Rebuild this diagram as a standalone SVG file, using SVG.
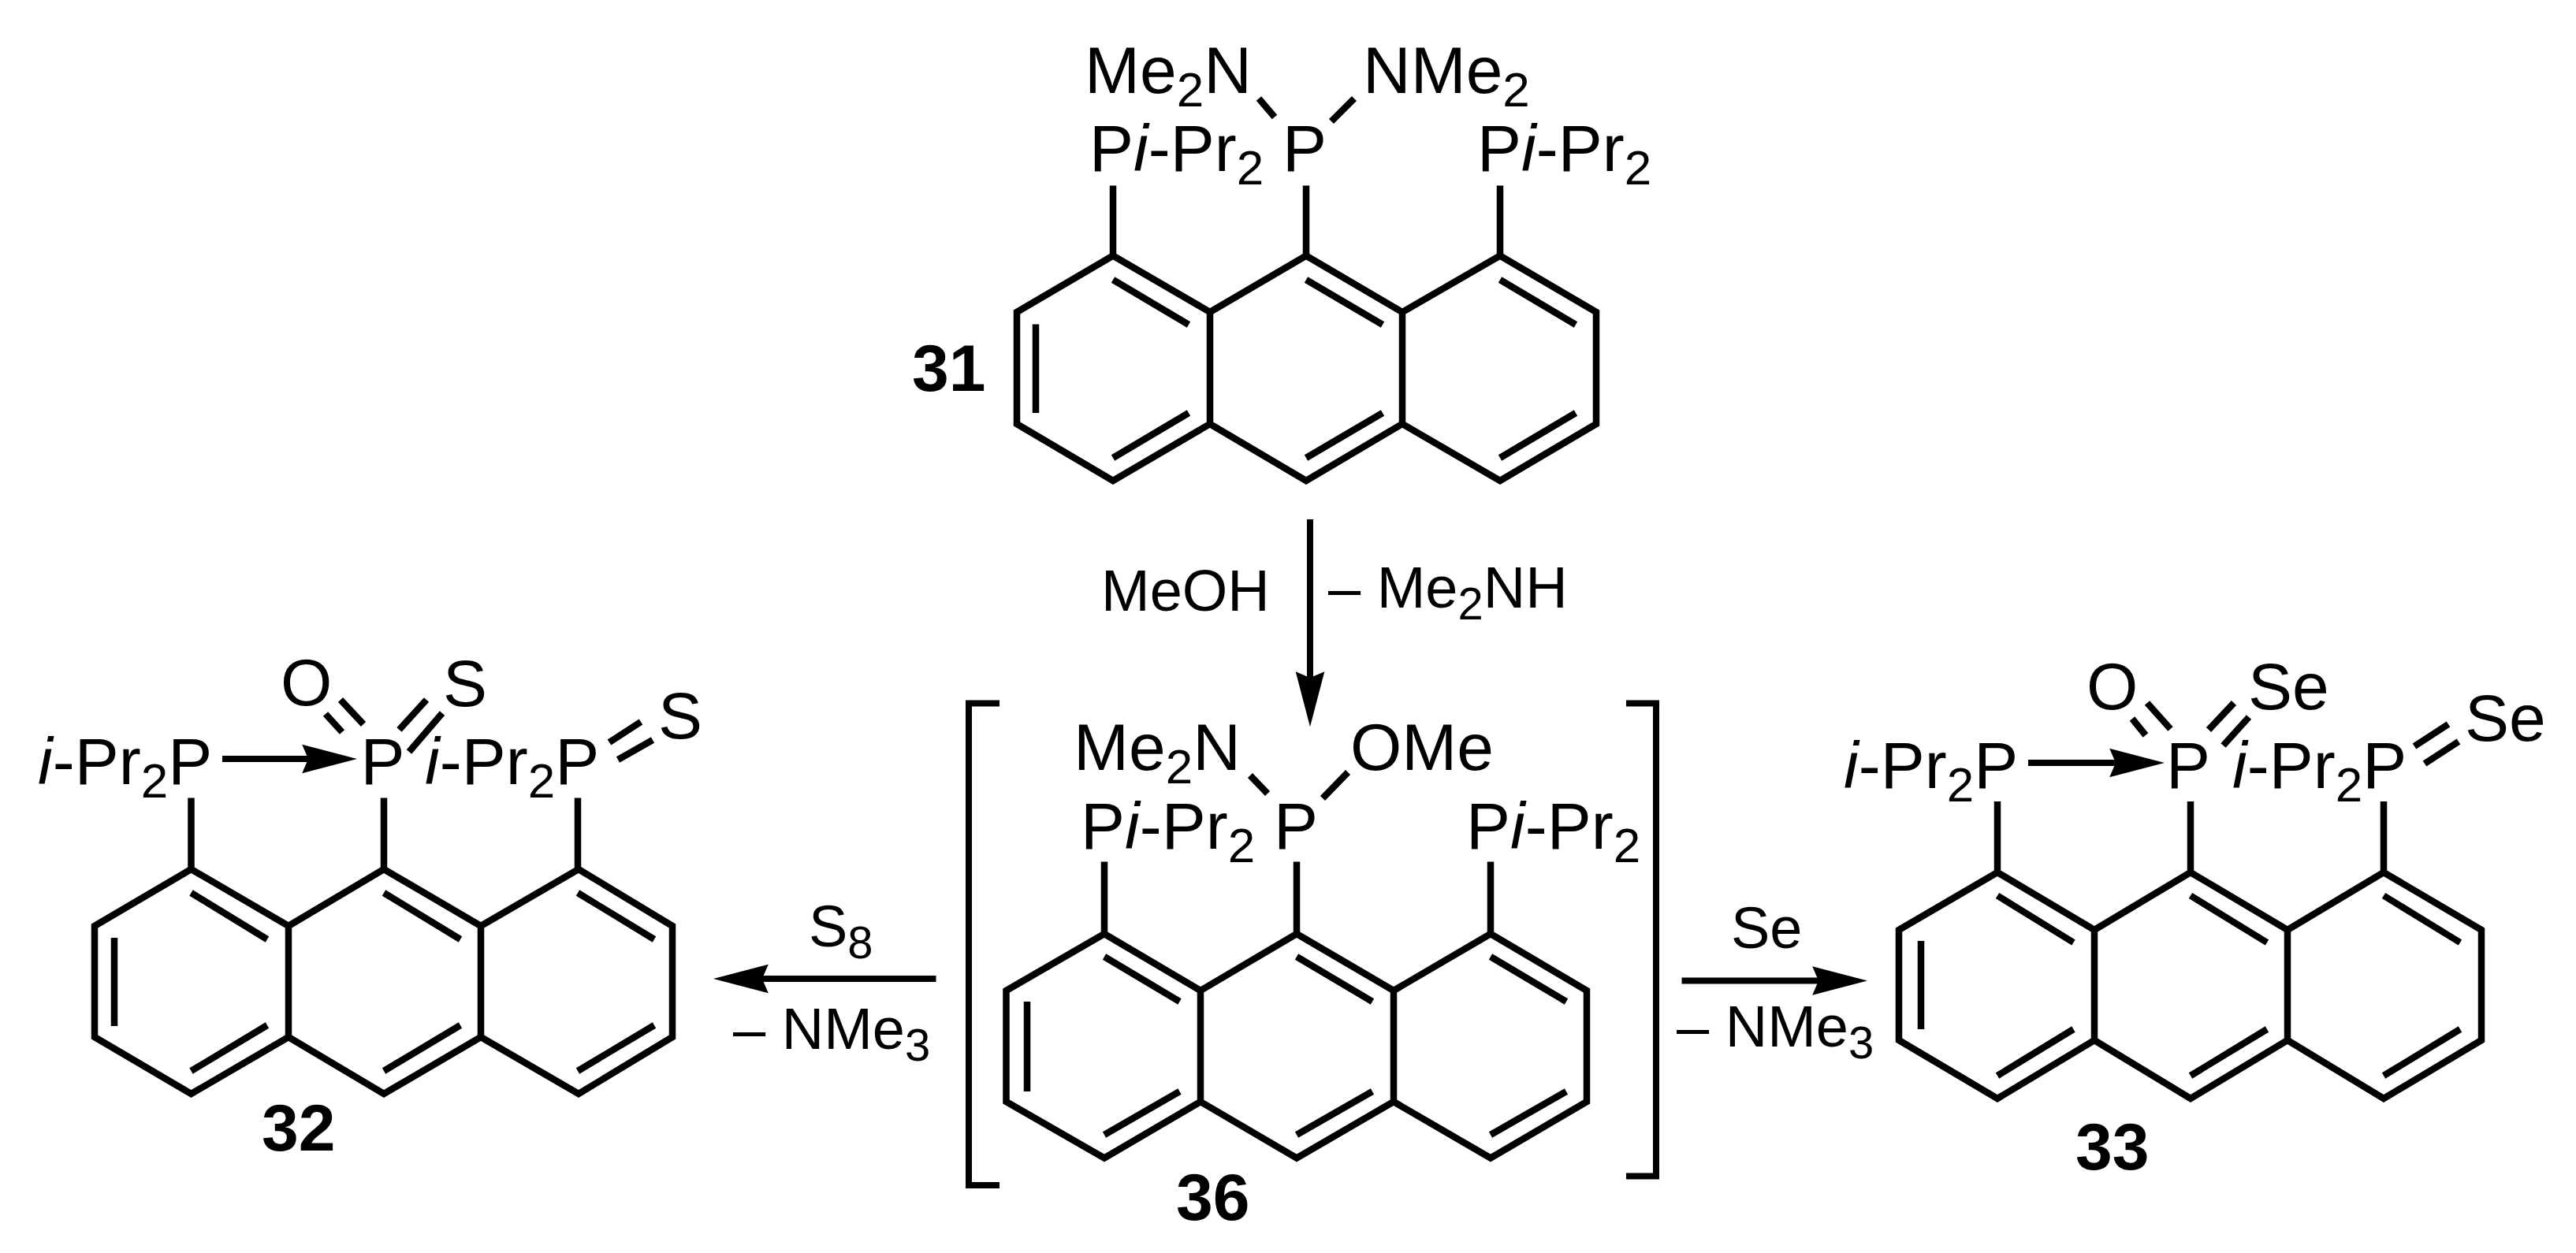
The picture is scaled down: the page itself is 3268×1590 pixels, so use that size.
<svg xmlns="http://www.w3.org/2000/svg" width="3268" height="1590" viewBox="0 0 3268 1590">
<style>
text{font-family:"Liberation Sans",Arial,sans-serif;fill:#000}
.a{font-size:84px}
.r{font-size:74px}
.n{font-size:84px;font-weight:bold}
.s{font-size:62px}
.t{font-size:58px}
.i{font-style:italic}
.b{fill:none;stroke:#000;stroke-width:8.5;stroke-linejoin:miter;stroke-linecap:butt}
.w{stroke-width:8}
.ar{marker-end:url(#head)}
</style>
<defs>
<marker id="head" markerUnits="userSpaceOnUse" markerWidth="70" markerHeight="40" viewBox="0 0 63 33" refX="7" refY="16.500" orient="auto"><path d="M0 0L63 16.500L0 33L7 16.500Z" fill="#000"/></marker>
</defs>
<rect width="3268" height="1590" fill="#fff"/>
<g id="compound-31">
<path class="b" d="M1290 396L1412 324.500L1535 396L1657 324.500L1779 396L1903 324.500L2025 396V538L1903 610L1779 538L1657 610L1535 538L1412 610L1290 538ZM1535 396V538M1779 396V538M1412 324.500V235.500M1657 324.500V235.500M1903 324.500V235.500M1314 411.500V524M1412 355L1508 412M1412 581L1508 524M1657 355L1754 412M1657 581L1754 524M1903 355L1999 412M1903 581L1999 524M1597 125L1617 148.500M1718 125L1689 154"/>
<text class="a" x="1376" y="118">Me<tspan class="s" dy="17">2</tspan><tspan dy="-17">N</tspan></text>
<text class="a" x="1729" y="118">NMe<tspan class="s" dy="17">2</tspan></text>
<text class="a" x="1382" y="217">P<tspan class="i">i</tspan>-Pr<tspan class="s" dy="17">2</tspan></text>
<text class="a" x="1627" y="217">P</text>
<text class="a" x="1874" y="217">P<tspan class="i">i</tspan>-Pr<tspan class="s" dy="17">2</tspan></text>
<text class="n" x="1157" y="496">31</text>
</g>
<g id="compound-32">
<path class="b" d="M120 1175L242.500 1103L366 1175L487 1103L610 1175L734 1103L853 1175V1316L734 1388L610 1316L487 1388L366 1316L242.500 1388L120 1316ZM366 1175V1316M610 1175V1316M242.500 1103V1012.500M487 1103V1012.500M733 1103V1012.500M145 1190V1302M242.500 1133L339 1192M242.500 1359L339 1301M487 1133L584 1192M487 1359L584 1301M733 1133L830 1192M733 1359L830 1301M413 906L434 929M432 888L461 919M541 888L506.500 926M561 905L519 954M813 916L773 942M828 939L784 964"/>
<text class="a" x="48" y="995"><tspan class="i">i</tspan>-Pr<tspan class="s" dy="17">2</tspan><tspan dy="-17">P</tspan></text>
<text class="a" x="457.500" y="995">P</text>
<text class="a" x="539" y="995"><tspan class="i">i</tspan>-Pr<tspan class="s" dy="17">2</tspan><tspan dy="-17">P</tspan></text>
<text class="a" x="356" y="895">O</text>
<text class="a" x="562" y="896">S</text>
<text class="a" x="835" y="937">S</text>
<path class="b w ar" d="M282 963H391"/>
<text class="n" x="332" y="1460">32</text>
</g>
<g id="compound-36">
<path class="b" d="M1276.500 1257L1401 1185L1523 1257L1645 1185L1768 1257L1891 1185L2013 1257V1398L1891 1469.500L1768 1398L1645 1469.500L1523 1398L1401 1469.500L1276.500 1398ZM1523 1257V1398M1768 1257V1398M1401 1185V1093.500M1645 1185V1093.500M1891 1185V1093.500M1303 1271V1385M1401 1214L1496.500 1271M1401 1440L1496.500 1385M1645 1214L1741 1271M1645 1440L1741 1385M1891 1214L1987 1271M1891 1440L1987 1385M1586 984L1608 1007M1710 980L1678 1013"/>
<text class="a" x="1362" y="977">Me<tspan class="s" dy="17">2</tspan><tspan dy="-17">N</tspan></text>
<text class="a" x="1713" y="977">OMe</text>
<text class="a" x="1371" y="1077">P<tspan class="i">i</tspan>-Pr<tspan class="s" dy="17">2</tspan></text>
<text class="a" x="1616" y="1077">P</text>
<text class="a" x="1860" y="1077">P<tspan class="i">i</tspan>-Pr<tspan class="s" dy="17">2</tspan></text>
<path class="b w" d="M1268 892.500H1229V1504H1268M2063 892.500H2101V1492.500H2063"/>
<text class="n" x="1492" y="1548">36</text>
</g>
<g id="compound-33">
<path class="b" d="M2409 1180L2534 1107L2657 1180L2779 1107L2902 1180L3024 1107L3148 1180V1320L3024 1394L2902 1320L2779 1394L2657 1320L2534 1394L2409 1320ZM2657 1180V1320M2902 1180V1320M2534 1107V1017M2779 1107V1017M3024 1107V1017M2437 1194V1306M2534 1136.500L2630.500 1196M2534 1365L2630.500 1306M2779 1136.500L2876 1196M2779 1365L2876 1306M3024 1136.500L3121 1196M3024 1365L3121 1306M2705 912L2722 933M2724 892L2753.500 925M2834 892L2802 926M2853 910L2820.500 946M3106 919L3063 947M3119 941L3076 969"/>
<text class="a" x="2339" y="1000"><tspan class="i">i</tspan>-Pr<tspan class="s" dy="17">2</tspan><tspan dy="-17">P</tspan></text>
<text class="a" x="2748" y="1000">P</text>
<text class="a" x="2832" y="1000"><tspan class="i">i</tspan>-Pr<tspan class="s" dy="17">2</tspan><tspan dy="-17">P</tspan></text>
<text class="a" x="2647" y="900">O</text>
<text class="a" x="2852" y="900">Se</text>
<text class="a" x="3127" y="940">Se</text>
<path class="b w ar" d="M2573 968H2684"/>
<text class="n" x="2633" y="1484">33</text>
</g>
<g id="connectors">
<path class="b w ar" d="M1662 659V860"/>
<path class="b w ar" d="M1187.500 1242H967"/>
<path class="b w ar" d="M2133.500 1244.500H2307"/>
</g>
<g id="reagents">
<text class="r" x="1397" y="775">MeOH</text>
<text class="r" x="1685" y="771">– Me<tspan class="t" dy="15">2</tspan><tspan dy="-15">NH</tspan></text>
<text class="r" x="1026" y="1201">S<tspan class="t" dy="15">8</tspan></text>
<text class="r" x="930" y="1331">– NMe<tspan class="t" dy="15">3</tspan></text>
<text class="r" x="2196" y="1203">Se</text>
<text class="r" x="2127" y="1328">– NMe<tspan class="t" dy="15">3</tspan></text>
</g>
</svg>
